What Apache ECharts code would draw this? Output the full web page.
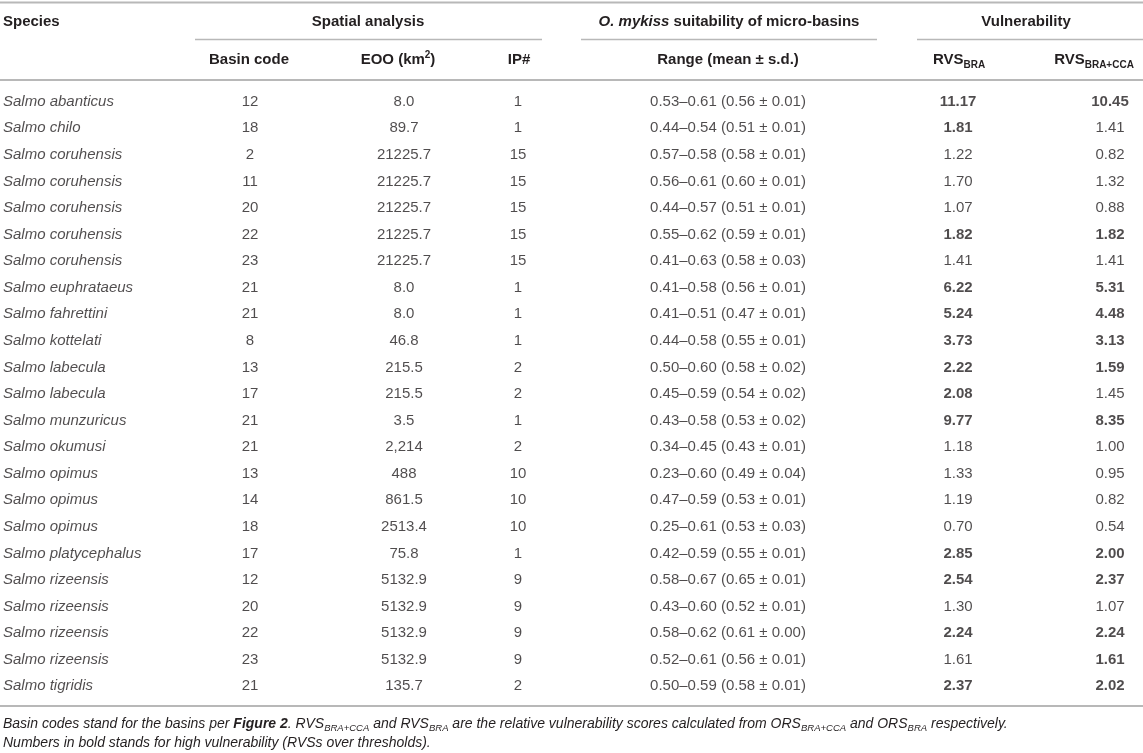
<!DOCTYPE html>
<html>
<head>
<meta charset="utf-8">
<script src="https://cdn.jsdelivr.net/npm/echarts@6/dist/echarts.min.js"></script>
<style>
html,body{margin:0;padding:0;background:#fff;}
#chart{width:1143px;height:753px;}
</style>
</head>
<body>
<div id="chart"></div>
<script>
// ---------- data ----------
const species = ['Salmo abanticus','Salmo chilo','Salmo coruhensis','Salmo coruhensis','Salmo coruhensis','Salmo coruhensis','Salmo coruhensis','Salmo euphrataeus','Salmo fahrettini','Salmo kottelati','Salmo labecula','Salmo labecula','Salmo munzuricus','Salmo okumusi','Salmo opimus','Salmo opimus','Salmo opimus','Salmo platycephalus','Salmo rizeensis','Salmo rizeensis','Salmo rizeensis','Salmo rizeensis','Salmo tigridis'];
const basinCode = [12,18,2,11,20,22,23,21,21,8,13,17,21,21,13,14,18,17,12,20,22,23,21];
const eoo = ['8.0','89.7','21225.7','21225.7','21225.7','21225.7','21225.7','8.0','8.0','46.8','215.5','215.5','3.5','2,214','488','861.5','2513.4','75.8','5132.9','5132.9','5132.9','5132.9','135.7'];
const ipNum = [1,1,15,15,15,15,15,1,1,1,2,2,1,2,10,10,10,1,9,9,9,9,2];
const rangeMin = [0.53,0.44,0.57,0.56,0.44,0.55,0.41,0.41,0.41,0.44,0.50,0.45,0.43,0.34,0.23,0.47,0.25,0.42,0.58,0.43,0.58,0.52,0.50];
const rangeMax = [0.61,0.54,0.58,0.61,0.57,0.62,0.63,0.58,0.51,0.58,0.60,0.59,0.58,0.45,0.60,0.59,0.61,0.59,0.67,0.60,0.62,0.61,0.59];
const rangeMean = [0.56,0.51,0.58,0.60,0.51,0.59,0.58,0.56,0.47,0.55,0.58,0.54,0.53,0.43,0.49,0.53,0.53,0.55,0.65,0.52,0.61,0.56,0.58];
const rangeSd = [0.01,0.01,0.01,0.01,0.01,0.01,0.03,0.01,0.01,0.01,0.02,0.02,0.02,0.01,0.04,0.01,0.03,0.01,0.01,0.01,0.00,0.01,0.01];
const rvsBra = [11.17,1.81,1.22,1.70,1.07,1.82,1.41,6.22,5.24,3.73,2.22,2.08,9.77,1.18,1.33,1.19,0.70,2.85,2.54,1.30,2.24,1.61,2.37];
const rvsBraCca = [10.45,1.41,0.82,1.32,0.88,1.82,1.41,5.31,4.48,3.13,1.59,1.45,8.35,1.00,0.95,0.82,0.54,2.00,2.37,1.07,2.24,1.61,2.02];
const rvsBraBold = [1,1,0,0,0,1,0,1,1,1,1,1,1,0,0,0,0,1,1,0,1,0,1];
const rvsBraCcaBold = [1,0,0,0,0,1,0,1,1,1,1,0,1,0,0,0,0,1,1,0,1,1,1];

// ---------- layout / style ----------
const W = 1143, H = 753;
const FONT = "'Liberation Sans', Arial, Helvetica, sans-serif";
const TXT = '#231f20';
const RULE = '#b8b8b8';
const FS = 15;
const colX = {species: 3, basin: 250, eoo: 404, ip: 518, range: 728, bra: 958, cca: 1110};
const firstRowY = 101.7, lastRowY = 686.3;
const rowH = (lastRowY - firstRowY) / (species.length - 1);
const gridTop = firstRowY - rowH / 2;
const gridBottom = H - (gridTop + rowH * species.length);

const chart = echarts.init(document.getElementById('chart'), null, {renderer: 'canvas'});

function textSeries(x, texts, align, opts) {
  opts = opts || {};
  return {
    type: 'scatter',
    symbol: 'circle',
    symbolSize: 1,
    silent: true,
    itemStyle: {color: 'rgba(0,0,0,0)'},
    label: {
      show: true,
      position: 'inside',
      align: align,
      verticalAlign: 'middle',
      formatter: '{b}',
      color: TXT,
      fontFamily: FONT,
      fontSize: FS,
      fontStyle: opts.italic ? 'italic' : 'normal'
    },
    data: texts.map((t, i) => ({
      name: t,
      value: [x, i],
      label: {fontWeight: opts.bold && opts.bold[i] ? 'bold' : 'normal'}
    }))
  };
}

const rangeText = rangeMin.map((m, i) =>
  m.toFixed(2) + '\u2013' + rangeMax[i].toFixed(2) + ' (' + rangeMean[i].toFixed(2) + ' \u00b1 ' + rangeSd[i].toFixed(2) + ')');

function hdr(x, y, text, align, rich) {
  return {
    type: 'text', silent: true,
    style: {
      x: x, y: y, text: text, align: align, verticalAlign: 'middle',
      fill: TXT, fontFamily: FONT, fontSize: FS, fontWeight: 'bold',
      rich: rich || undefined
    }
  };
}
function rule(x1, x2, y, w) {
  return {type: 'line', silent: true, shape: {x1: x1, y1: y, x2: x2, y2: y}, style: {stroke: RULE, lineWidth: w}};
}
const subRich = {
  m: {fontSize: FS, fontWeight: 'bold', fontFamily: FONT, fill: TXT, lineHeight: 20},
  s: {fontSize: 10, fontWeight: 'bold', fontFamily: FONT, fill: TXT, lineHeight: 12, verticalAlign: 'bottom'},
  p: {fontSize: 10, fontWeight: 'bold', fontFamily: FONT, fill: TXT, lineHeight: 12, verticalAlign: 'top'},
  i: {fontSize: FS, fontWeight: 'bold', fontStyle: 'italic', fontFamily: FONT, fill: TXT, lineHeight: 20}
};
const fnRich = {
  n: {fontSize: 14, fontStyle: 'italic', fontFamily: FONT, fill: TXT, lineHeight: 18},
  b: {fontSize: 14, fontStyle: 'italic', fontWeight: 'bold', fontFamily: FONT, fill: TXT, lineHeight: 18},
  s: {fontSize: 9.5, fontStyle: 'italic', fontFamily: FONT, fill: TXT, lineHeight: 11, verticalAlign: 'bottom'}
};

const option = {
  animation: false,
  backgroundColor: '#ffffff',
  grid: {left: 0, right: 0, top: gridTop, bottom: gridBottom, containLabel: false},
  xAxis: {type: 'value', min: 0, max: W, show: false},
  yAxis: {type: 'value', min: -0.5, max: species.length - 0.5, inverse: true, show: false},
  series: [
    textSeries(colX.species, species, 'left', {italic: true}),
    textSeries(colX.basin, basinCode.map(String), 'center'),
    textSeries(colX.eoo, eoo, 'center'),
    textSeries(colX.ip, ipNum.map(String), 'center'),
    textSeries(colX.range, rangeText, 'center'),
    textSeries(colX.bra, rvsBra.map(v => v.toFixed(2)), 'center', {bold: rvsBraBold}),
    textSeries(colX.cca, rvsBraCca.map(v => v.toFixed(2)), 'center', {bold: rvsBraCcaBold})
  ],
  graphic: [
    rule(0, W, 2.5, 2),
    hdr(3, 22, 'Species', 'left'),
    hdr(368, 22, 'Spatial analysis', 'center'),
    hdr(729, 22, '{i|O. mykiss}{m| suitability of micro-basins}', 'center', subRich),
    hdr(1026, 22, 'Vulnerability', 'center'),
    rule(195, 542, 39.5, 1.5),
    rule(581, 877, 39.5, 1.5),
    rule(917, W, 39.5, 1.5),
    hdr(249, 60, 'Basin code', 'center'),
    hdr(398, 60, '{m|EOO (km}{p|2}{m|)}', 'center', subRich),
    hdr(519, 60, 'IP#', 'center'),
    hdr(728, 60, 'Range (mean \u00b1 s.d.)', 'center'),
    hdr(959, 60, '{m|RVS}{s|BRA}', 'center', subRich),
    hdr(1094, 60, '{m|RVS}{s|BRA+CCA}', 'center', subRich),
    rule(0, W, 80, 2),
    rule(0, W, 706, 2),
    {
      type: 'text', silent: true,
      style: {
        x: 3, y: 724.5, align: 'left', verticalAlign: 'middle', fill: TXT,
        fontFamily: FONT, fontSize: 14, fontStyle: 'italic',
        text: '{n|Basin codes stand for the basins per }{b|Figure 2}{n|. RVS}{s|BRA+CCA}{n| and RVS}{s|BRA}{n| are the relative vulnerability scores calculated from ORS}{s|BRA+CCA}{n| and ORS}{s|BRA}{n| respectively.}',
        rich: fnRich
      }
    },
    {
      type: 'text', silent: true,
      style: {
        x: 3, y: 743, align: 'left', verticalAlign: 'middle', fill: TXT,
        fontFamily: FONT, fontSize: 14, fontStyle: 'italic',
        text: '{n|Numbers in bold stands for high vulnerability (RVSs over thresholds).}',
        rich: fnRich
      }
    }
  ]
};
chart.setOption(option);
</script>
</body>
</html>
